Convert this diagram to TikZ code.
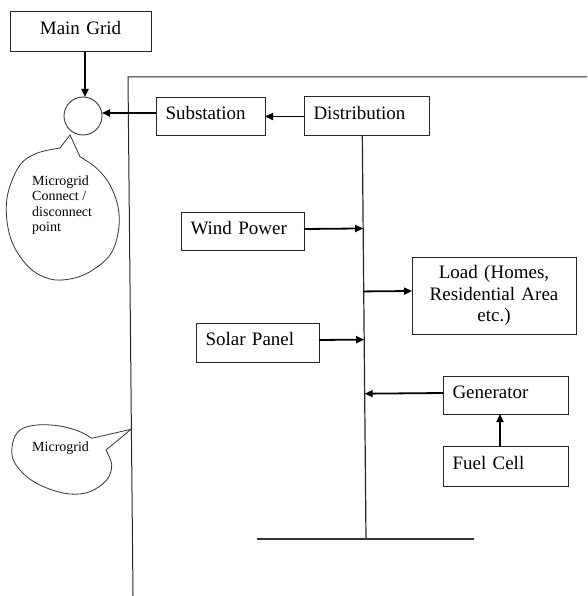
\documentclass[tikz,border=0pt]{standalone}
\usepackage{fontspec}
\setmainfont{Liberation Serif}
\usetikzlibrary{arrows.meta,calc}
\begin{document}
\begin{tikzpicture}[x=1pt,y=-1pt,
  boxbase/.style={draw=black!85, line width=1pt, rectangle, inner xsep=9.5pt, inner ysep=0pt,
    outer sep=0pt, font=\fontsize{19}{21.5}\selectfont},
  box/.style={boxbase, align=left, text height=13.5pt, text depth=7.5pt},
  arr/.style={line width=1.8pt, -{Triangle[length=8pt,width=7pt]}},
  ln/.style={line width=1pt, draw=black!85},
  bubble/.style={line width=0.8pt, draw=black!80},
  small/.style={font=\fontsize{14}{15.5}\selectfont, inner sep=0pt, align=left}]
\useasboundingbox (0,0) rectangle (587,596);

% microgrid border
\coordinate (mtl) at (128,77);
\coordinate (mtr) at (587,77);
\coordinate (mbl) at (133,596);
\draw[ln] (mtr) -- (mtl) -- (mbl);

% boxes
\node[box, align=center, text width=122pt, minimum height=40pt] (maingrid) at (80.5,32) {Main Grid};
\node[box, text width=90pt, minimum height=38pt] (substation) at (210.5,117) {Substation};
\node[box, text width=106pt, minimum height=39pt] (distribution) at (366.5,116.5) {Distribution};
\node[box, text width=104pt, minimum height=38pt] (wind) at (242.5,231) {Wind Power};
\node[box, text width=104pt, minimum height=39pt] (solar) at (257.5,342.5) {Solar Panel};
\node[boxbase, align=center, text width=145pt, minimum height=77pt] (load) at (494,295.5) {Load (Homes,\\Residential Area\\etc.)};
\node[box, text width=106pt, minimum height=38pt] (generator) at (505.5,395) {Generator};
\node[box, text width=106pt, minimum height=40pt] (fuelcell) at (505.5,466) {Fuel Cell};

% connect / disconnect point
\node[draw=black!85, line width=0.8pt, circle, minimum size=38pt, inner sep=0pt, outer sep=0pt] (cp) at (83,116) {};

% bus
\coordinate (bt) at ([xshift=-4.2pt]distribution.south);
\coordinate (bb) at (366,539);
\coordinate (gl) at (257,539);
\coordinate (gr) at (474,539);
\draw[line width=1.2pt, draw=black!85] (bt) -- (bb);
\draw[line width=1.2pt, draw=black!80] (gl) -- (gr);

% bus tap points
\coordinate (wo) at ([yshift=2pt]wind.east);
\coordinate (bw) at ($(bt)!(wo)!(bb)$);
\coordinate (lo) at ([yshift=4.5pt]load.west);
\coordinate (bl) at ($(bt)!(lo)!(bb)$);
\coordinate (so) at ([yshift=2.5pt]solar.east);
\coordinate (bs) at ($(bt)!(so)!(bb)$);
\coordinate (go) at ([yshift=2pt]generator.west);
\coordinate (bg) at ($(bt)!(go)!(bb)$);

% arrows
\draw[arr] ([xshift=2pt]maingrid.south -| cp.north) -- ([xshift=2pt]cp.north);
\draw[arr] ([yshift=4pt]substation.west) -- ([yshift=4pt]substation.west -| cp.east);
\draw[arr] (distribution.west) -- (distribution.west -| substation.east);
\draw[arr] (wo) -- (bw);
\draw[arr] (bl) -- (lo);
\draw[arr] (so) -- (bs);
\draw[arr] (go) -- (bg);
\draw[arr] ([xshift=-5.5pt]fuelcell.north) -- ([xshift=-5.5pt]generator.south);

% callout: connect / disconnect point
\draw[bubble] (70,135) -- plot[smooth, tension=0.6] coordinates {(60,148) (36.7,153.3) (20,165) (8.3,191.7) (6.7,218.3) (13.3,245) (30,268.3) (50,279) (70,279) (90,271.7) (110,255) (118.3,231.7) (118.3,208.3) (110,185) (96.7,168.3) (80,156.7)} -- cycle;
\node[small, anchor=north west] (cptext) at (32,175.4) {Microgrid\\Connect /\\disconnect\\point};

% callout: microgrid
\draw[bubble] (131,429.3) -- plot[smooth, tension=0.6] coordinates {(91.7,438.3) (80,431.7) (60,426) (36.7,425) (20,430) (12.7,443) (13.3,460) (26.7,476.7) (46.7,488) (70,494) (90,491.7) (106.7,480) (111.7,465) (106,450)} -- cycle;
\node[small, anchor=base west] (mgtext) at (32,451.7) {Microgrid};
\end{tikzpicture}
\end{document}
